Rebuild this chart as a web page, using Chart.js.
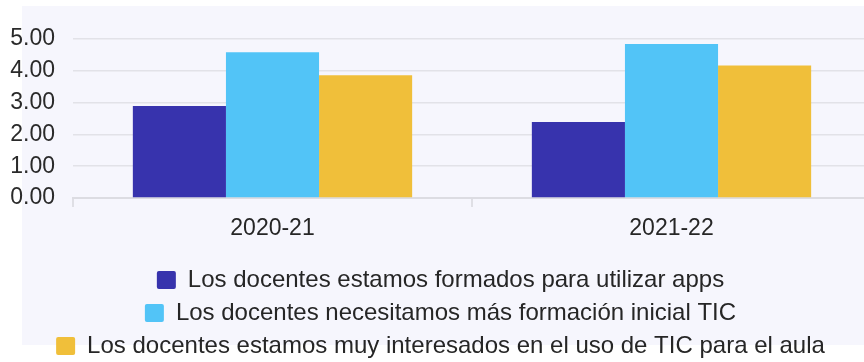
<!DOCTYPE html>
<html>
<head>
<meta charset="utf-8">
<script src="https://cdn.jsdelivr.net/npm/chart.js@4"></script>
<style>
  html, body { margin: 0; padding: 0; background: #fff; overflow: hidden; }
  #fondo { position: absolute; left: 22px; top: 6px; width: 842px; height: 339px; background: #f6f6fd; }
  #wrap { position: absolute; left: 0; top: 0; width: 872px; height: 368px; }
</style>
</head>
<body>
<div id="fondo"></div>
<div id="wrap"><canvas id="encuestaChart" width="872" height="368"></canvas></div>
<script>
// Medias por curso escolar
const cursos = ['2020-21', '2021-22'];
const formados = [2.89, 2.39];
const necesitamos = [4.58, 4.84];
const interesados = [3.86, 4.17];
const etiquetas = [
  'Los docentes estamos formados para utilizar apps',
  'Los docentes necesitamos más formación inicial TIC',
  'Los docentes estamos muy interesados en el uso de TIC para el aula',
];
const ticksY = [0, 1, 2, 3, 4, 5];

Chart.defaults.font.family = '"Liberation Sans", Arial, sans-serif';
Chart.defaults.color = '#262626';

const ctx = document.getElementById('encuestaChart').getContext('2d');
new Chart(ctx, {
  type: 'bar',
  data: {
    labels: cursos,
    datasets: [
      { label: etiquetas[0], data: formados, backgroundColor: '#3733ad', borderWidth: 0 },
      { label: etiquetas[1], data: necesitamos, backgroundColor: '#52c4f7', borderWidth: 0 },
      { label: etiquetas[2], data: interesados, backgroundColor: '#f0bf3a', borderWidth: 0 },
    ],
  },
  options: {
    responsive: false,
    animation: false,
    layout: { padding: { top: 39, left: 10, right: 1, bottom: 0 } },
    datasets: { bar: { categoryPercentage: 0.7, barPercentage: 1.0 } },
    plugins: {
      tooltip: { enabled: false },
      legend: {
        position: 'bottom',
        labels: {
          font: { size: 24 },
          boxWidth: 19,
          boxHeight: 18,
          padding: 9,
          useBorderRadius: true,
          borderRadius: 2,
        },
      },
    },
    scales: {
      x: {
        grid: { drawOnChartArea: false, drawTicks: true, tickLength: 9, color: '#dfdfe5', lineWidth: 2 },
        border: { display: true, color: '#dcdce2', width: 2 },
        ticks: { font: { size: 23 }, padding: 8, color: '#262626' },
        afterFit: function (scale) { scale.height = 61; },
      },
      y: {
        min: ticksY[0],
        max: ticksY[ticksY.length - 1],
        afterBuildTicks: function (scale) { scale.ticks = ticksY.map(v => ({ value: v })); },
        afterFit: function (scale) { scale.width = 63; },
        grid: { drawTicks: false, color: '#e2e2e8', lineWidth: 1.5 },
        border: { display: false },
        ticks: {
          font: { size: 23 },
          padding: 18,
          color: '#2a2a2a',
          callback: function (value) { return Number(value).toFixed(2); },
        },
      },
    },
  },
});
</script>
</body>
</html>
